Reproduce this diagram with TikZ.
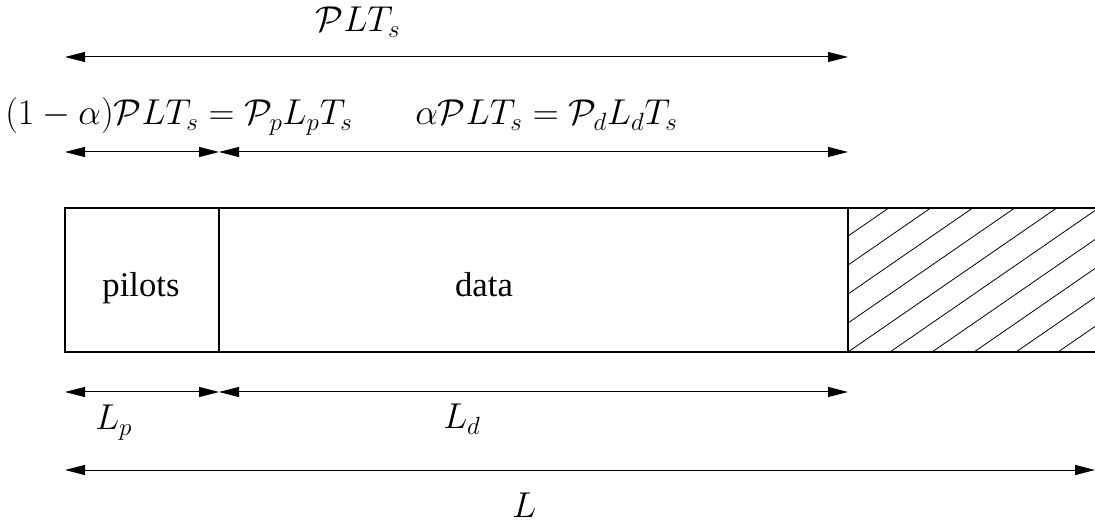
\documentclass[tikz,border=0pt]{standalone}
\usepackage{fontspec}
\setmainfont{Liberation Serif}
\usetikzlibrary{arrows.meta}
\newcommand{\mylabmath}[1]{\scalebox{1.3}{\fontsize{20.74}{25}\selectfont$#1$}}
\begin{document}
\begin{tikzpicture}[x=0.75pt,y=-0.75pt,
  dim/.style={{Triangle[length=15pt,width=7.5pt]}-{Triangle[length=15pt,width=7.5pt]}, line width=0.75pt},
  mlab/.style={inner sep=0pt},
  tlab/.style={inner sep=0pt, font=\fontsize{26}{30}\selectfont},
  frame/.style={line width=0.8pt},
  hatch/.style={line width=0.6pt}]
\useasboundingbox (0,0) rectangle (1095,523);
% dimension end points
\coordinate (t1) at (65,57); \coordinate (t2) at (848,57);
\coordinate (m1) at (65,152); \coordinate (m2) at (219,152); \coordinate (m3) at (848,152);
\coordinate (b1) at (65,392); \coordinate (b2) at (219,392); \coordinate (b3) at (848,392);
\coordinate (l1) at (65,470); \coordinate (l2) at (1095,470);
% frame corners
\coordinate (tl) at (65,208); \coordinate (bl) at (65,352);
\coordinate (pt) at (219,208); \coordinate (pb) at (219,352);
\coordinate (dt) at (848,208); \coordinate (db) at (848,352);
\coordinate (tr) at (1095,208); \coordinate (br) at (1095,352);
% hatch
\begin{scope}
\clip (dt) rectangle (br);
\foreach \i in {-5,...,6} \draw[hatch] (848+\i*42,352) -- ++(300,-207);
\end{scope}
\draw[frame] (tr) -- (tl) -- (bl) -- (br);
\draw[frame] (pt) -- (pb);
\draw[frame] (dt) -- (db);
% arrows
\draw[dim] (t1) -- (t2);
\draw[dim] (m1) -- (m2);
\draw[dim] (m2) -- (m3);
\draw[dim] (b1) -- (b2);
\draw[dim] (b2) -- (b3);
\draw[dim] (l1) -- (l2);
% labels
\node[mlab, anchor=base] (plt) at (358,32) {\mylabmath{\mathcal{P}LT_s}};
\node[mlab, anchor=base west] (pil) at (5,125) {\mylabmath{(1-\alpha)\mathcal{P}LT_s=\mathcal{P}_pL_pT_s}};
\node[mlab, anchor=base west] (dat) at (415,125) {\mylabmath{\alpha\mathcal{P}LT_s=\mathcal{P}_dL_dT_s}};
\node[tlab, anchor=base] (pilots) at (141,297) {pilots};
\node[tlab, anchor=base] (data) at (484,297) {data};
\node[mlab, anchor=base west] (lp) at (95,430) {\mylabmath{L_p}};
\node[mlab, anchor=base west] (ld) at (443,429) {\mylabmath{L_d}};
\node[mlab, anchor=base west] (lL) at (512,517) {\mylabmath{L}};
\end{tikzpicture}
\end{document}
